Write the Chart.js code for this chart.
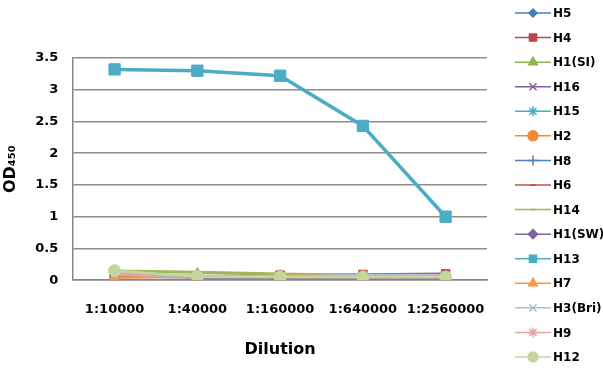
<!DOCTYPE html>
<html>
<head>
<meta charset="utf-8">
<script src="https://cdn.jsdelivr.net/npm/chart.js@4/dist/chart.umd.min.js"></script>
<style>
  html, body { margin: 0; padding: 0; background: #fff; }
  #wrap { width: 603px; height: 371px; }
</style>
</head>
<body>
<div id="wrap"><canvas id="odChart" width="603" height="371"></canvas></div>
<script>
var dilutions = ["1:10000", "1:40000", "1:160000", "1:640000", "1:2560000"];
var seriesNames = ["H5", "H4", "H1(SI)", "H16", "H15", "H2", "H8", "H6", "H14", "H1(SW)", "H13", "H7", "H3(Bri)", "H9", "H12"];

var h5    = [0.06, 0.05, 0.05, 0.05, 0.05];
var h4    = [0.08, 0.06, 0.08, 0.09, 0.10];
var h1si  = [0.14, 0.12, 0.09, 0.07, 0.06];
var h16   = [0.07, 0.05, 0.05, 0.06, 0.06];
var h15   = [0.06, 0.05, 0.05, 0.05, 0.05];
var h2    = [0.05, 0.05, 0.05, 0.05, 0.05];
var h8    = [0.07, 0.05, 0.05, 0.05, 0.05];
var h6    = [0.08, 0.06, 0.05, 0.05, 0.05];
var h14   = [0.15, 0.13, 0.10, 0.08, 0.07];
var h1sw  = [0.06, 0.05, 0.05, 0.05, 0.05];
var h13   = [3.32, 3.30, 3.22, 2.43, 1.00];
var h7    = [0.04, 0.06, 0.07, 0.07, 0.07];
var h3bri = [0.09, 0.06, 0.06, 0.08, 0.08];
var h9    = [0.10, 0.07, 0.06, 0.05, 0.05];
var h12   = [0.15, 0.06, 0.05, 0.05, 0.05];

var yTicks = [0, 0.5, 1, 1.5, 2, 2.5, 3, 3.5];

var allValues = [h5, h4, h1si, h16, h15, h2, h8, h6, h14, h1sw, h13, h7, h3bri, h9, h12];
var colors = ["#4a7ebb", "#b84b48", "#8db550", "#7c5fa0", "#4aacc6", "#f08c3c", "#4f81bd", "#c0504d",
              "#9bbb59", "#8064a2", "#4bacc6", "#f79646", "#a9bde0", "#e6a3a1", "#c3d69b"];
var styles = ["rectRot", "rect", "triangle", "crossRot", "star", "circle", "cross", "line",
              "line", "rectRot", "rect", "triangle", "crossRot", "star", "circle"];
var radii = [4, 6, 5, 5, 5, 5, 5, 3, 5, 4.5, 8, 5, 5, 5, 6];

var datasets = seriesNames.map(function(name, i) {
  return {
    label: name,
    data: allValues[i],
    order: seriesNames.length - i, // later series drawn on top, like Excel
    borderColor: colors[i],
    backgroundColor: colors[i],
    pointBackgroundColor: colors[i],
    pointBorderColor: colors[i],
    pointStyle: styles[i],
    pointRadius: radii[i],
    pointBorderWidth: (styles[i] == "crossRot" || styles[i] == "star" || styles[i] == "cross" || styles[i] == "line") ? 1.5 : 1,
    borderWidth: name == "H13" ? 3.5 : 2.5,
    tension: 0,
    fill: false
  };
});

// legend on the right: line with marker through it, like the spreadsheet one
var sideLegend = {
  id: "sideLegend",
  afterDraw: function(chart) {
    var ctx = chart.ctx;
    ctx.save();
    chart.data.datasets.forEach(function(ds, i) {
      var y = 13 + i * 24.57;
      ctx.strokeStyle = ds.borderColor;
      ctx.fillStyle = ds.borderColor;
      ctx.lineWidth = 1.5;
      ctx.beginPath();
      ctx.moveTo(515, y);
      ctx.lineTo(551, y);
      ctx.stroke();
      var r = ds.pointRadius;
      if (ds.pointStyle == "rect") r = 6;
      Chart.helpers.drawPoint(ctx, {
        pointStyle: ds.pointStyle,
        radius: ds.pointStyle == "line" ? 3 : Math.min(r, 5),
        rotation: 0,
        borderWidth: 1.5
      }, 533, y);
      ctx.fillStyle = "#000";
      ctx.font = "bold 12px 'DejaVu Sans'";
      ctx.textAlign = "left";
      ctx.textBaseline = "middle";
      ctx.fillText(ds.label, 553, y + 1);
    });
    ctx.restore();
  }
};

new Chart("odChart", {
  type: "line",
  data: {
    labels: dilutions,
    datasets: datasets
  },
  plugins: [sideLegend],
  options: {
    responsive: false,
    animation: false,
    layout: { padding: { top: 58, right: 116, bottom: 8, left: 1 } },
    plugins: {
      legend: { display: false },
      tooltip: { enabled: false }
    },
    scales: {
      x: {
        offset: true,
        grid: { display: false, drawTicks: false },
        border: { display: true, color: "#868686", width: 1.5 },
        ticks: { color: "#000", font: { family: "DejaVu Sans", size: 13, weight: "bold" }, padding: 22, maxRotation: 0, autoSkip: false },
        title: { display: true, text: "Dilution", color: "#000", font: { family: "DejaVu Sans", size: 16, weight: "bold" }, padding: { top: 0 } }
      },
      y: {
        min: 0,
        max: 3.5,
        afterBuildTicks: function(axis) {
          axis.ticks = yTicks.map(function(v) { return { value: v }; });
        },
        grid: { color: "#8c8c8c", lineWidth: 1.5, drawTicks: false },
        border: { display: true, color: "#868686", width: 1.5 },
        ticks: {
          color: "#000", font: { family: "DejaVu Sans", size: 13, weight: "bold" }, padding: 15,
          callback: function(v) { return String(v); }
        },
        title: { display: true, text: "OD₄₅₀", color: "#000", font: { family: "DejaVu Sans", size: 16, weight: "bold" }, padding: { top: 0, bottom: 0 } }
      }
    }
  }
});
</script>
</body>
</html>
